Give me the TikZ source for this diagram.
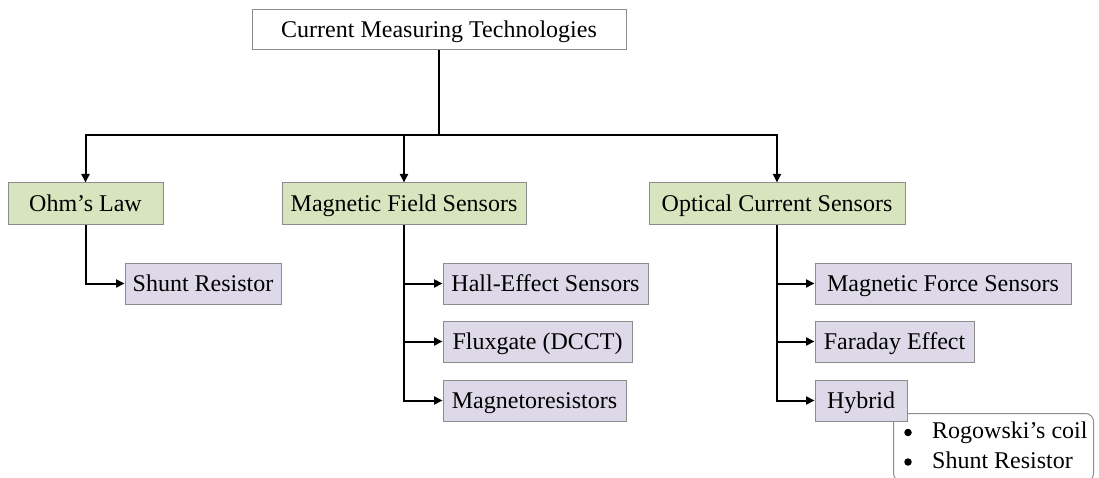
\documentclass[tikz,border=0pt]{standalone}
\usepackage{fontspec}
\setmainfont{Liberation Serif}
\usetikzlibrary{arrows.meta}
\definecolor{catfill}{RGB}{215,228,189}
\definecolor{itemfill}{RGB}{222,217,232}
\definecolor{boxline}{RGB}{140,140,140}
\tikzset{
  basebox/.style={draw=boxline, line width=1pt, inner sep=0pt,
    text height=17pt, text depth=1pt, font=\fontsize{24}{28}\selectfont},
  rootbox/.style={basebox, fill=white, minimum height=40pt},
  catbox/.style={basebox, fill=catfill, minimum height=42pt},
  itembox/.style={basebox, fill=itemfill, minimum height=41pt},
  notebox/.style={draw=boxline, line width=1pt, fill=white, rounded corners=8pt, inner sep=0pt},
  dot/.style={circle, fill=black, inner sep=0pt, minimum size=7.5pt},
  listtext/.style={anchor=base west, inner sep=0pt, font=\fontsize{24}{28}\selectfont},
  link/.style={draw=black, line width=2pt},
  arrowlink/.style={link, -{Triangle[length=8.5pt,width=8pt]}},
}
\begin{document}
\begin{tikzpicture}[x=1pt,y=-1pt]
  \useasboundingbox (0,0) rectangle (1099,478);

  % root
  \node[rootbox, minimum width=374pt] (root) at (439,30) {Current Measuring Technologies};

  % categories
  \node[catbox, minimum width=155pt] (ohm) at (85.5,204) {Ohm’s Law};
  \node[catbox, minimum width=244pt] (mag) at (404,204) {Magnetic Field Sensors};
  \node[catbox, minimum width=256pt] (opt) at (777,204) {Optical Current Sensors};

  % techniques
  \node[itembox, minimum width=156pt] (shunt) at (203,283.5) {Shunt Resistor};
  \node[itembox, minimum width=205pt] (hall) at (545.5,283.5) {Hall-Effect Sensors};
  \node[itembox, minimum width=189pt] (flux) at (537.5,341.5) {Fluxgate (DCCT)};
  \node[itembox, minimum width=183pt] (mres) at (534.5,400.5) {Magnetoresistors};
  \node[itembox, minimum width=256pt] (mforce) at (943,283.5) {Magnetic Force Sensors};
  \node[itembox, minimum width=159pt] (faraday) at (894.5,341.5) {Faraday Effect};

  % hybrid sub-list sits behind the Hybrid box
  \node[notebox, anchor=north west, minimum width=200pt, minimum height=68pt] (note) at (893,413) {};
  \node[dot] (dot1) at (908,432.5) {};
  \node[dot] (dot2) at (908,462) {};
  \node[listtext] (item1) at (932,438.5) {Rogowski’s coil};
  \node[listtext] (item2) at (932,468) {Shunt Resistor};
  \node[itembox, minimum width=92pt] (hybrid) at (861,400.5) {Hybrid};

  % connectors
  \coordinate (hub) at (439,135);
  \draw[link] (root.south) -- (hub);
  \draw[arrowlink] (hub) -| (ohm.north);
  \draw[arrowlink] (hub) -| (mag.north);
  \draw[arrowlink, line width=1.4pt] (hub) -| (opt.north);

  \draw[arrowlink] (ohm.south) |- (shunt.west);
  \draw[arrowlink] (mag.south) |- (hall.west);
  \draw[arrowlink] (mag.south) |- (flux.west);
  \draw[arrowlink] (mag.south) |- (mres.west);
  \draw[arrowlink] (opt.south) |- (mforce.west);
  \draw[arrowlink] (opt.south) |- (faraday.west);
  \draw[arrowlink] (opt.south) |- (hybrid.west);
\end{tikzpicture}
\end{document}
